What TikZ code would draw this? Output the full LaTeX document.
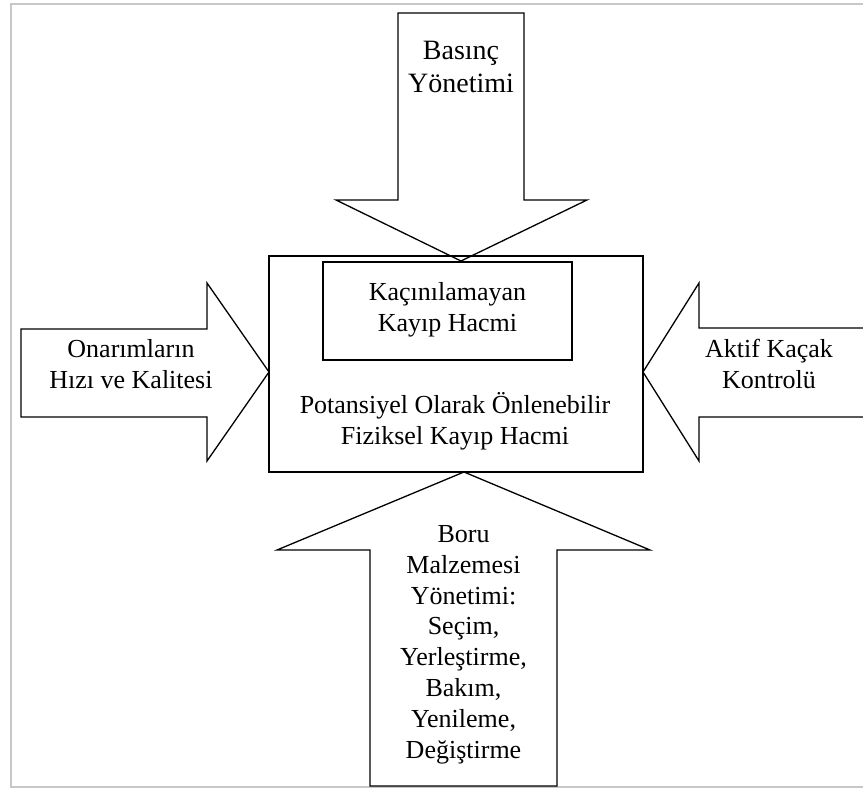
\documentclass[tikz,border=0pt]{standalone}
\usepackage{fontspec}
\setmainfont{Liberation Serif}
\usepackage{tikz}
\usetikzlibrary{arrows}

\tikzset{
  blok/.style={draw=black,line width=0.65pt,line join=miter},
  yazi/.style={align=center,inner sep=0pt,font=\fontsize{13}{15.4}\selectfont}
}

\begin{document}
\begin{tikzpicture}[x=0.5pt,y=-0.5pt]
\clip (0,0) rectangle (863,791); % picture size in pixels
\draw[color=black!22,line width=0.9pt] (870,4) -- (11,4) -- (11,787) -- (870,787); % frame
% center boxes
\draw[blok] (269,256) rectangle (643,472);
\draw[blok] (323,262) rectangle (572,360);
% block arrows
\draw[blok] (398,13) -- (524,13) -- (524,200) -- (587,200) -- (461,261) -- (336,200) -- (398,200) -- cycle;
\draw[blok] (21,329) -- (207,329) -- (207,283) -- (269,372) -- (207,461) -- (207,417) -- (21,417) -- cycle;
\draw[blok] (875,328) -- (699,328) -- (699,283) -- (643,372) -- (699,461) -- (699,417) -- (875,417);
\draw[blok] (370,786) -- (370,550) -- (277,550) -- (464,472) -- (650,550) -- (557,550) -- (557,786) -- cycle;
% texts
\node[yazi,font=\fontsize{14}{16.4}\selectfont] (basinc) at (461,67) {Basınç\\Yönetimi};
\node[yazi] (kacinilamayan) at (447.5,310) {Kaçınılamayan\\Kayıp Hacmi};
\node[yazi] (onlenebilir) at (455,421.5) {Potansiyel Olarak Önlenebilir\\Fiziksel Kayıp Hacmi};
\node[yazi] (onarim) at (131,364.5) {Onarımların\\Hızı ve Kalitesi};
\node[yazi] (aktif) at (769,364) {Aktif Kaçak\\Kontrolü};
\node[yazi] (boru) at (463.5,644.5) {Boru\\Malzemesi\\Yönetimi:\\Seçim,\\Yerleştirme,\\Bakım,\\Yenileme,\\Değiştirme};
\end{tikzpicture}
\end{document}
